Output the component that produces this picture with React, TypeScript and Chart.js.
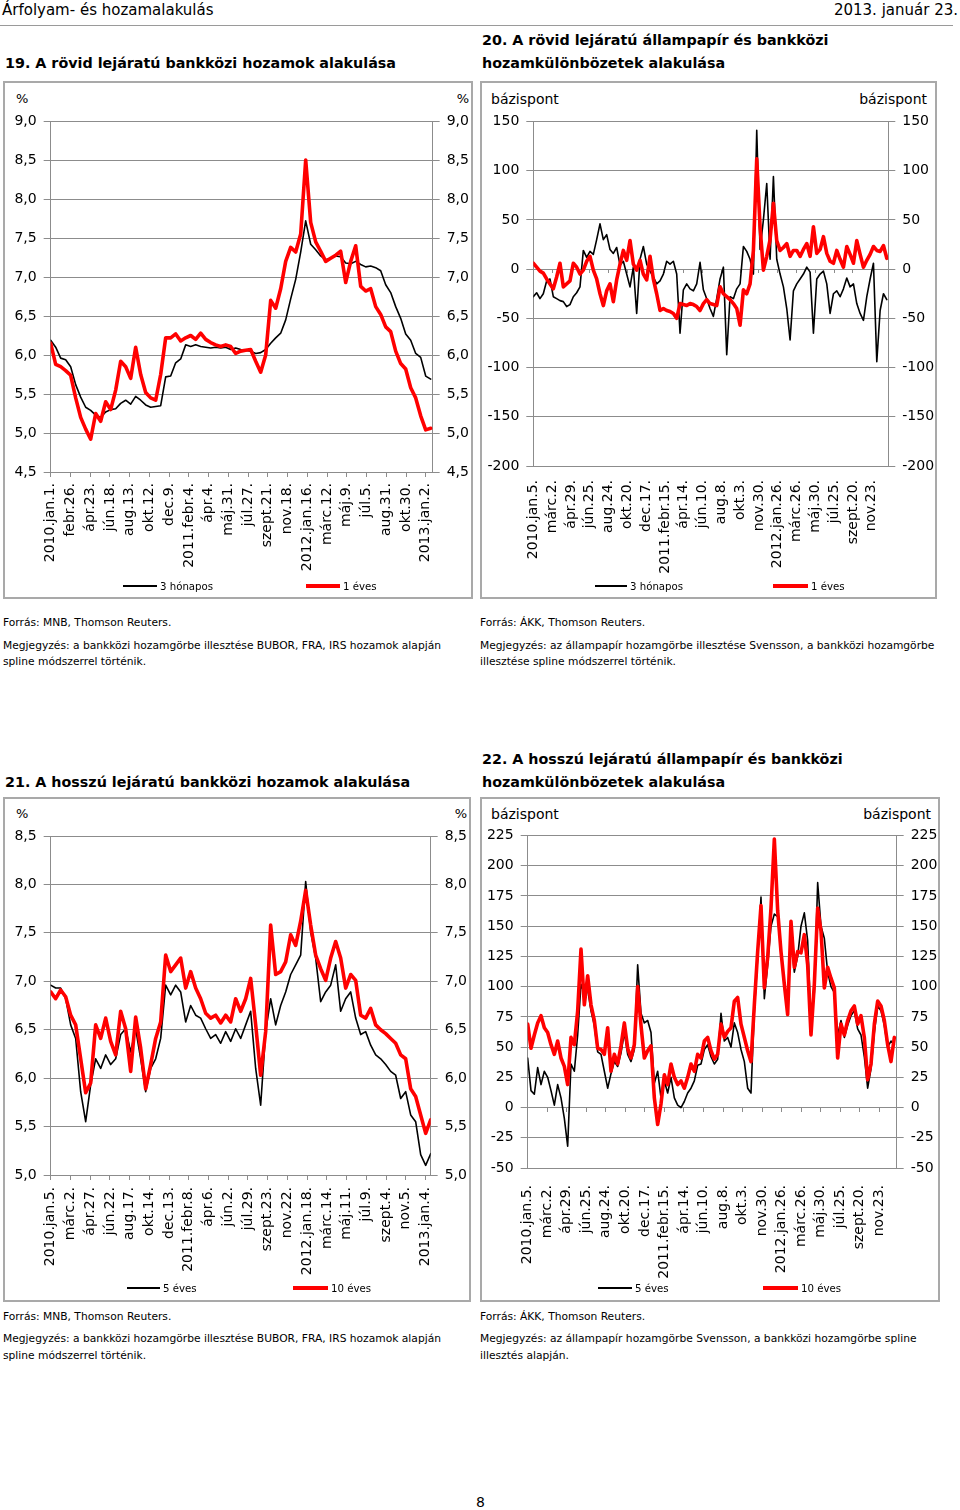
import React, { useEffect, useRef } from "react";
import { Chart, registerables } from "chart.js";

Chart.register(...registerables);

const FONT = '"DejaVu Sans", Verdana, sans-serif';
const GRID = "#8c8c8c";
const RED = "#ff0000";
const BLACK = "#000000";

// ---------- 19. chart: short-term interbank yields (%) ----------
const LABELS_19 = ["2010.jan.1.", "febr.26.", "ápr.23.", "jún.18.", "aug.13.", "okt.12.", "dec.9.", "2011.febr.4.", "ápr.4.", "máj.31.", "júl.27.", "szept.21.", "nov.18.", "2012.jan.16.", "márc.12.", "máj.9.", "júl.5.", "aug.31.", "okt.30.", "2013.jan.2."];
const RATE_3M_19 = [6.19, 6.10, 5.96, 5.94, 5.85, 5.62, 5.46, 5.33, 5.29, 5.23, 5.20, 5.27, 5.30, 5.31, 5.38, 5.42, 5.37, 5.47, 5.42, 5.36, 5.33, 5.34, 5.35, 5.72, 5.73, 5.90, 5.95, 6.13, 6.11, 6.13, 6.11, 6.10, 6.09, 6.10, 6.09, 6.10, 6.07, 6.09, 6.07, 6.06, 6.05, 6.02, 6.03, 6.07, 6.15, 6.22, 6.28, 6.45, 6.72, 6.97, 7.32, 7.72, 7.42, 7.35, 7.27, 7.22, 7.24, 7.27, 7.26, 7.18, 7.17, 7.20, 7.16, 7.13, 7.14, 7.12, 7.08, 6.90, 6.80, 6.62, 6.47, 6.27, 6.19, 6.02, 5.97, 5.73, 5.69];
const RATE_1Y_19 = [6.15, 5.88, 5.85, 5.80, 5.74, 5.45, 5.20, 5.05, 4.92, 5.25, 5.15, 5.40, 5.30, 5.55, 5.92, 5.85, 5.70, 6.10, 5.75, 5.52, 5.45, 5.42, 5.75, 6.22, 6.22, 6.27, 6.18, 6.22, 6.25, 6.20, 6.28, 6.20, 6.16, 6.13, 6.11, 6.13, 6.11, 6.02, 6.05, 6.06, 6.07, 5.92, 5.78, 6.00, 6.70, 6.60, 6.85, 7.20, 7.38, 7.32, 7.55, 8.50, 7.70, 7.45, 7.33, 7.20, 7.24, 7.28, 7.33, 6.93, 7.20, 7.40, 6.88, 6.82, 6.85, 6.62, 6.52, 6.36, 6.30, 6.05, 5.89, 5.82, 5.58, 5.45, 5.22, 5.04, 5.06];

// ---------- 20. chart: short-term spreads (basis points) ----------
const LABELS_20 = ["2010.jan.5.", "márc.2.", "ápr.29.", "jún.25.", "aug.24.", "okt.20.", "dec.17.", "2011.febr.15.", "ápr.14.", "jún.10.", "aug.8.", "okt.3.", "nov.30.", "2012.jan.26.", "márc.26.", "máj.30.", "júl.25.", "szept.20.", "nov.23."];
const SPREAD_3M_20 = [-28, -24, -30, -25, -12, -10, -28, -30, -32, -33, -38, -36, -28, -24, -18, 19, 12, 18, 15, 30, 46, 30, 35, 20, 16, 22, 4, 8, -5, -18, 2, -45, 10, 23, 5, -2, -8, -15, -12, -5, 8, 5, 8, -5, -65, -21, -15, -20, -22, -15, 7, -21, -30, -40, -48, -30, -10, 2, -87, -28, -30, -20, -15, 23, 18, 10, -5, 141, 20, 50, 87, 10, 94, 10, -5, -18, -40, -72, -22, -15, -10, -5, 2, -3, -65, -10, -5, -2, -15, -45, -25, -22, -28, -20, -9, -18, -15, -35, -45, -52, -28, -10, 6, -94, -42, -25, -31];
const SPREAD_1Y_20 = [6, 2, -2, -4, -10, -15, -20, -8, 6, -18, -15, -12, 6, 2, -5, -1, 8, 13, -1, -10, -25, -37, -22, -15, -33, -11, 5, 19, 9, 29, 5, -1, 9, -5, -11, 13, -10, -25, -42, -40, -42, -43, -45, -50, -35, -36, -37, -35, -36, -38, -42, -35, -31, -35, -36, -37, -18, -25, -28, -31, -35, -40, -57, -21, -25, -15, 19, 112, 43, -1, 13, 30, 67, 29, 19, 22, 26, 13, 19, 19, 13, 20, 26, 13, 43, 16, 20, 33, 16, 8, 6, 19, 10, 2, 23, 15, 6, 29, 15, 2, 9, 15, 23, 19, 18, 24, 11];

// ---------- 21. chart: long-term interbank yields (%) ----------
const LABELS_21 = ["2010.jan.5.", "márc.2.", "ápr.27.", "jún.22.", "aug.17.", "okt.14.", "dec.13.", "2011.febr.8.", "ápr.6.", "jún.2.", "júl.29.", "szept.23.", "nov.22.", "2012.jan.18.", "márc.14.", "máj.11.", "júl.9.", "szept.4.", "nov.5.", "2013.jan.4."];
const RATE_5Y_21 = [6.96, 6.93, 6.93, 6.82, 6.55, 6.41, 5.86, 5.55, 5.93, 6.20, 6.10, 6.24, 6.14, 6.20, 6.45, 6.51, 6.27, 6.51, 6.20, 5.86, 6.10, 6.20, 6.41, 6.96, 6.86, 6.96, 6.89, 6.58, 6.75, 6.65, 6.62, 6.51, 6.41, 6.45, 6.36, 6.48, 6.38, 6.51, 6.41, 6.55, 6.69, 6.10, 5.72, 6.48, 6.82, 6.55, 6.75, 6.89, 7.07, 7.17, 7.27, 8.03, 7.51, 7.24, 6.79, 6.89, 6.96, 7.17, 6.69, 6.82, 6.89, 6.62, 6.45, 6.48, 6.34, 6.24, 6.20, 6.14, 6.07, 6.03, 5.79, 5.86, 5.62, 5.55, 5.21, 5.10, 5.22];
const RATE_10Y_21 = [6.89, 6.82, 6.91, 6.84, 6.65, 6.55, 6.20, 5.85, 5.95, 6.55, 6.41, 6.62, 6.38, 6.24, 6.69, 6.51, 6.07, 6.63, 6.31, 5.89, 6.14, 6.41, 6.58, 7.27, 7.10, 7.17, 7.24, 6.93, 7.10, 6.93, 6.82, 6.67, 6.62, 6.65, 6.57, 6.65, 6.58, 6.82, 6.69, 6.82, 7.03, 6.55, 6.03, 6.48, 7.58, 7.07, 7.10, 7.20, 7.48, 7.37, 7.62, 7.94, 7.58, 7.27, 7.13, 7.01, 7.24, 7.41, 7.24, 6.93, 7.07, 7.01, 6.65, 6.62, 6.72, 6.55, 6.50, 6.46, 6.41, 6.36, 6.24, 6.20, 5.89, 5.81, 5.62, 5.43, 5.57];

// ---------- 22. chart: long-term spreads (basis points) ----------
const LABELS_22 = ["2010.jan.5.", "márc.2.", "ápr.29.", "jún.25.", "aug.24.", "okt.20.", "dec.17.", "2011.febr.15.", "ápr.14.", "jún.10.", "aug.8.", "okt.3.", "nov.30.", "2012.jan.26.", "márc.26.", "máj.30.", "júl.25.", "szept.20.", "nov.23."];
const SPREAD_5Y_22 = [41, 14, 11, 33, 19, 30, 25, 14, 2, 19, 8, -9, -32, 36, 30, 60, 102, 94, 98, 80, 68, 46, 44, 30, 16, 28, 38, 34, 45, 62, 44, 38, 48, 118, 78, 70, 72, 62, 20, 30, 8, 22, 12, 25, 8, 2, 0, 5, 12, 16, 22, 35, 36, 48, 52, 42, 36, 40, 78, 55, 58, 50, 70, 62, 48, 38, 16, 12, 80, 124, 174, 90, 118, 150, 160, 158, 130, 100, 80, 140, 112, 125, 150, 161, 138, 70, 95, 186, 150, 140, 112, 100, 95, 60, 72, 58, 68, 76, 80, 65, 60, 42, 16, 32, 62, 84, 80, 68, 50, 55, 52];
const SPREAD_10Y_22 = [69, 49, 60, 70, 76, 66, 62, 52, 44, 55, 41, 34, 19, 58, 52, 80, 131, 85, 109, 85, 72, 49, 48, 44, 66, 30, 44, 36, 51, 70, 49, 41, 52, 100, 68, 41, 47, 51, 8, -14, 3, 27, 19, 36, 25, 19, 22, 16, 25, 36, 30, 44, 41, 55, 58, 47, 40, 44, 69, 58, 63, 66, 88, 91, 69, 58, 47, 38, 85, 129, 167, 99, 124, 165, 222, 163, 129, 102, 77, 154, 116, 129, 128, 143, 118, 60, 102, 165, 146, 99, 116, 107, 99, 41, 69, 60, 72, 80, 84, 69, 76, 58, 23, 36, 69, 88, 84, 72, 52, 38, 58];

type Series = { values: number[]; color: string; width: number; order: number };
type Spec = {
  left: number; top: number; width: number; height: number;
  area: { left: number; top: number; right: number; bottom: number };
  labels: string[]; xMax: number; dataEnd: number;
  yMin: number; yMax: number; yStep: number; decimals: number;
  series: Series[];
  ticksOnZero: boolean; labelPad: number;
};

const SPEC_19: Spec = {
  left: 5, top: 83, width: 466, height: 514,
  area: { left: 45.67, top: 38, right: 427.67, bottom: 389 },
  labels: LABELS_19, xMax: 19.35, dataEnd: 19.25,
  yMin: 4.5, yMax: 9, yStep: 0.5, decimals: 1,
  series: [
    { values: RATE_3M_19, color: BLACK, width: 1.6, order: 1 },
    { values: RATE_1Y_19, color: RED, width: 3.6, order: 0 },
  ],
  ticksOnZero: false, labelPad: 6,
};
const SPEC_20: Spec = {
  left: 482, top: 83, width: 453, height: 514,
  area: { left: 51.3, top: 38.5, right: 406.3, bottom: 383 },
  labels: LABELS_20, xMax: 18.88, dataEnd: 18.8,
  yMin: -200, yMax: 150, yStep: 50, decimals: 0,
  series: [
    { values: SPREAD_3M_20, color: BLACK, width: 1.6, order: 1 },
    { values: SPREAD_1Y_20, color: RED, width: 3.6, order: 0 },
  ],
  ticksOnZero: true, labelPad: 14,
};
const SPEC_21: Spec = {
  left: 5, top: 799, width: 464, height: 501,
  area: { left: 45.67, top: 37, right: 425.67, bottom: 376 },
  labels: LABELS_21, xMax: 19.26, dataEnd: 19.26,
  yMin: 5, yMax: 8.5, yStep: 0.5, decimals: 1,
  series: [
    { values: RATE_5Y_21, color: BLACK, width: 1.6, order: 1 },
    { values: RATE_10Y_21, color: RED, width: 3.6, order: 0 },
  ],
  ticksOnZero: false, labelPad: 7,
};
const SPEC_22: Spec = {
  left: 482, top: 799, width: 456, height: 501,
  area: { left: 45.67, top: 36.5, right: 414.67, bottom: 369 },
  labels: LABELS_22, xMax: 18.89, dataEnd: 18.77,
  yMin: -50, yMax: 225, yStep: 25, decimals: 0,
  series: [
    { values: SPREAD_5Y_22, color: BLACK, width: 1.6, order: 1 },
    { values: SPREAD_10Y_22, color: RED, width: 3.6, order: 0 },
  ],
  ticksOnZero: true, labelPad: 17,
};

function LineChart({ spec }: { spec: Spec }) {
  const ref = useRef<HTMLCanvasElement>(null);
  useEffect(() => {
    const canvas = ref.current;
    if (!canvas) return;
    const font = { family: FONT, size: 14 };
    const fmt = (v: any) => {
      const n = Number(v);
      return spec.decimals ? n.toFixed(spec.decimals).replace(".", ",") : String(Math.round(n));
    };
    const yTicks = { stepSize: spec.yStep, padding: 7, color: "#000", font, callback: fmt };
    const xLabel = (v: any) => {
      const n = Number(v);
      return Number.isInteger(n) && spec.labels[n] !== undefined ? spec.labels[n] : "";
    };
    const scales: any = {
      x: {
        type: "linear", position: "bottom", min: 0, max: spec.xMax,
        ticks: {
          stepSize: 1, autoSkip: false, includeBounds: false, minRotation: 90, maxRotation: 90,
          padding: spec.labelPad, color: "#000", font, callback: xLabel,
        },
        grid: spec.ticksOnZero
          ? { display: false, drawTicks: false }
          : { display: true, drawOnChartArea: false, drawTicks: true, tickLength: 5, color: GRID },
        border: { display: true, color: GRID, width: 1 },
        afterFit: (s: any) => { s.height = spec.height - spec.area.bottom; },
      },
      y: {
        type: "linear", position: "left", min: spec.yMin, max: spec.yMax,
        ticks: yTicks,
        grid: { color: GRID, tickLength: 7, lineWidth: 1 },
        border: { display: true, color: GRID, width: 1 },
        afterFit: (s: any) => { s.width = spec.area.left; },
      },
      y2: {
        type: "linear", position: "right", min: spec.yMin, max: spec.yMax,
        ticks: yTicks,
        grid: { drawOnChartArea: false, color: GRID, tickLength: 7 },
        border: { display: true, color: GRID, width: 1 },
        afterFit: (s: any) => { s.width = spec.width - spec.area.right; },
      },
    };
    if (spec.ticksOnZero) {
      scales.x0 = {
        type: "linear", axis: "x", position: { y: 0 }, min: 0, max: spec.xMax,
        ticks: { display: false, stepSize: 1, includeBounds: false, autoSkip: false },
        grid: { display: true, drawOnChartArea: false, drawTicks: true, tickLength: 4, color: GRID },
        border: { display: false },
      };
    }
    const chart = new Chart(canvas, {
      type: "line",
      data: {
        datasets: spec.series.map((s) => ({
          data: s.values.map((v, i) => ({ x: (i * spec.dataEnd) / (s.values.length - 1), y: v })),
          borderColor: s.color,
          backgroundColor: s.color,
          borderWidth: s.width,
          pointRadius: 0,
          pointHoverRadius: 0,
          tension: 0,
          fill: false,
          order: s.order,
          xAxisID: "x",
          yAxisID: "y",
          borderJoinStyle: "round",
          borderCapStyle: "round",
        })) as any,
      },
      options: {
        animation: false,
        responsive: false,
        maintainAspectRatio: false,
        events: [],
        layout: { padding: { top: spec.area.top, left: 0, right: 0, bottom: 0 } },
        plugins: { legend: { display: false }, tooltip: { enabled: false }, title: { display: false } },
        scales,
      } as any,
    });
    return () => chart.destroy();
  }, [spec]);
  return (
    <canvas
      ref={ref}
      width={spec.width}
      height={spec.height}
      style={{ position: "absolute", left: spec.left, top: spec.top, width: spec.width, height: spec.height }}
    />
  );
}

function Txt(props: { x: number; y: number; size: number; bold?: boolean; right?: boolean; children: React.ReactNode }) {
  const lh = Math.round(props.size * 1.25);
  const style: React.CSSProperties = {
    position: "absolute",
    top: props.y - lh / 2,
    fontSize: props.size,
    lineHeight: `${lh}px`,
    fontWeight: props.bold ? "bold" : "normal",
    whiteSpace: "nowrap",
    color: "#000",
  };
  if (props.right) style.right = 960 - props.x;
  else style.left = props.x;
  return <div style={style}>{props.children}</div>;
}

function Legend(props: { y: number; items: { x: number; w: number; color: string; thick: number; text: string }[] }) {
  return (
    <>
      {props.items.map((it, k) => (
        <React.Fragment key={k}>
          <div style={{ position: "absolute", left: it.x, top: props.y - it.thick / 2, width: it.w, height: it.thick, background: it.color }} />
          <Txt x={it.x + it.w + 3} y={props.y} size={10.2}>{it.text}</Txt>
        </React.Fragment>
      ))}
    </>
  );
}

function Box(props: { x: number; y: number; w: number; h: number }) {
  return (
    <div style={{ position: "absolute", left: props.x, top: props.y, width: props.w, height: props.h, border: "2px solid #a9a9a9", boxSizing: "border-box" }} />
  );
}

export default function App() {
  return (
    <div style={{ position: "absolute", left: 0, top: 0, width: 960, height: 1510, background: "#fff", fontFamily: FONT, overflow: "hidden" }}>
      <Txt x={2} y={10} size={15}>Árfolyam- és hozamalakulás</Txt>
      <Txt x={958} y={10} size={15} right>2013. január 23.</Txt>
      <div style={{ position: "absolute", left: 0, top: 25, width: 953, height: 1, background: "#9a9a9a" }} />

      {/* Titles top */}
      <Txt x={5} y={63} size={14.3} bold>19. A rövid lejáratú bankközi hozamok alakulása</Txt>
      <Txt x={482} y={40} size={14.3} bold>20. A rövid lejáratú állampapír és bankközi</Txt>
      <Txt x={482} y={63} size={14.3} bold>hozamkülönbözetek alakulása</Txt>

      <Box x={3} y={81} w={470} h={518} />
      <Box x={480} y={81} w={457} h={518} />

      <Txt x={16} y={99} size={13}>%</Txt>
      <Txt x={469} y={99} size={13} right>%</Txt>
      <Txt x={491} y={99} size={14}>bázispont</Txt>
      <Txt x={927} y={99} size={14} right>bázispont</Txt>

      <LineChart spec={SPEC_19} />
      <LineChart spec={SPEC_20} />

      <Legend y={586} items={[
        { x: 123, w: 34, color: BLACK, thick: 2, text: "3 hónapos" },
        { x: 306, w: 34, color: RED, thick: 4, text: "1 éves" },
      ]} />
      <Legend y={586} items={[
        { x: 595, w: 32, color: BLACK, thick: 2, text: "3 hónapos" },
        { x: 773, w: 35, color: RED, thick: 4, text: "1 éves" },
      ]} />

      <Txt x={3} y={622} size={10.7}>Forrás: MNB, Thomson Reuters.</Txt>
      <Txt x={3} y={645} size={10.7}>Megjegyzés: a bankközi hozamgörbe illesztése BUBOR, FRA, IRS hozamok alapján</Txt>
      <Txt x={3} y={661} size={10.7}>spline módszerrel történik.</Txt>
      <Txt x={480} y={622} size={10.7}>Forrás: ÁKK, Thomson Reuters.</Txt>
      <Txt x={480} y={645} size={10.7}>Megjegyzés: az állampapír hozamgörbe illesztése Svensson, a bankközi hozamgörbe</Txt>
      <Txt x={480} y={661} size={10.7}>illesztése spline módszerrel történik.</Txt>

      {/* Titles bottom */}
      <Txt x={5} y={782} size={14.3} bold>21. A hosszú lejáratú bankközi hozamok alakulása</Txt>
      <Txt x={482} y={759} size={14.3} bold>22. A hosszú lejáratú állampapír és bankközi</Txt>
      <Txt x={482} y={782} size={14.3} bold>hozamkülönbözetek alakulása</Txt>

      <Box x={3} y={797} w={468} h={505} />
      <Box x={480} y={797} w={460} h={505} />

      <Txt x={16} y={814} size={13}>%</Txt>
      <Txt x={467} y={814} size={13} right>%</Txt>
      <Txt x={491} y={814} size={14}>bázispont</Txt>
      <Txt x={931} y={814} size={14} right>bázispont</Txt>

      <LineChart spec={SPEC_21} />
      <LineChart spec={SPEC_22} />

      <Legend y={1288} items={[
        { x: 127, w: 33, color: BLACK, thick: 2, text: "5 éves" },
        { x: 293, w: 35, color: RED, thick: 4, text: "10 éves" },
      ]} />
      <Legend y={1288} items={[
        { x: 598, w: 34, color: BLACK, thick: 2, text: "5 éves" },
        { x: 763, w: 35, color: RED, thick: 4, text: "10 éves" },
      ]} />

      <Txt x={3} y={1316} size={10.7}>Forrás: MNB, Thomson Reuters.</Txt>
      <Txt x={3} y={1338} size={10.7}>Megjegyzés: a bankközi hozamgörbe illesztése BUBOR, FRA, IRS hozamok alapján</Txt>
      <Txt x={3} y={1355} size={10.7}>spline módszerrel történik.</Txt>
      <Txt x={480} y={1316} size={10.7}>Forrás: ÁKK, Thomson Reuters.</Txt>
      <Txt x={480} y={1338} size={10.7}>Megjegyzés: az állampapír hozamgörbe Svensson, a bankközi hozamgörbe spline</Txt>
      <Txt x={480} y={1355} size={10.7}>illesztés alapján.</Txt>

      <Txt x={476} y={1502} size={14}>8</Txt>
    </div>
  );
}
